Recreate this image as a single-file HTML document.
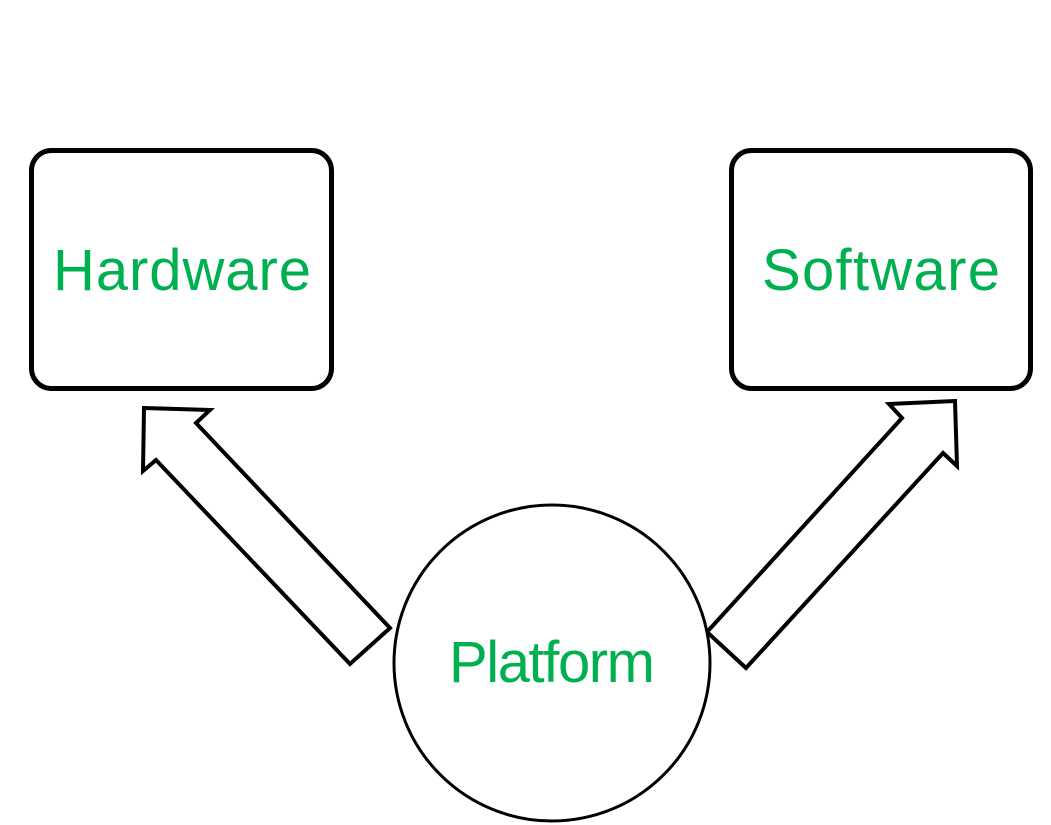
<!DOCTYPE html>
<html><head><meta charset="utf-8"><style>
html,body{margin:0;padding:0;background:#fff;}
svg{display:block;}
text{font-family:"Liberation Sans",sans-serif;fill:#00B050;font-size:58px;}
</style></head><body>
<svg width="1051" height="825" viewBox="0 0 1051 825">
<rect x="31.5" y="150.5" width="300" height="238" rx="20" fill="#fff" stroke="#000" stroke-width="5"/>
<rect x="731.5" y="150.5" width="299" height="238" rx="20" fill="#fff" stroke="#000" stroke-width="5"/>
<text x="182" y="290" text-anchor="middle" textLength="258">Hardware</text>
<text x="881" y="290" text-anchor="middle" textLength="238">Software</text>
<polygon points="144,408 210,410 196,423 390,628 350,664 156,460 143,471" fill="#fff" stroke="#000" stroke-width="4" stroke-linejoin="miter"/>
<polygon points="955,401 889,404 902,418 707,632 746,668 943,453 957,466" fill="#fff" stroke="#000" stroke-width="4" stroke-linejoin="miter"/>
<circle cx="552" cy="663" r="158" fill="#fff" stroke="#000" stroke-width="3"/>
<text x="552" y="682" text-anchor="middle" textLength="206">Platform</text>
</svg>
</body></html>
